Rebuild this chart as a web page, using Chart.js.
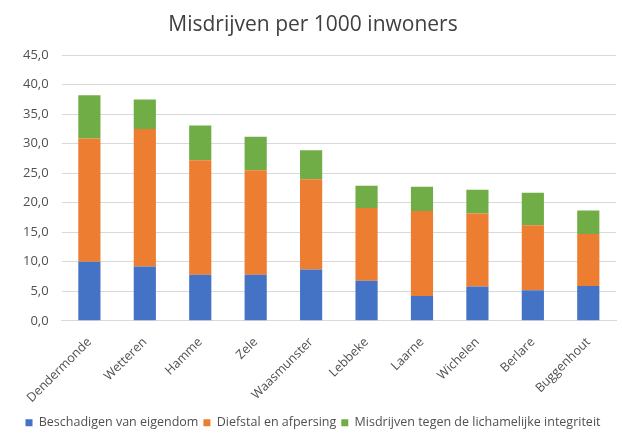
<!DOCTYPE html>
<html>
<head>
<meta charset="utf-8">
<script src="https://cdn.jsdelivr.net/npm/chart.js@4"></script>
<style>
  html, body { margin: 0; padding: 0; background: #fff; }
  #wrap { width: 622px; height: 439px; }
</style>
</head>
<body>
<div id="wrap"><canvas id="myChart" width="622" height="439"></canvas></div>
<script>
const gemeenten = ['Dendermonde', 'Wetteren', 'Hamme', 'Zele', 'Waasmunster', 'Lebbeke', 'Laarne', 'Wichelen', 'Berlare', 'Buggenhout'];
const beschadigen = [10.0, 9.2, 7.8, 7.8, 8.7, 6.8, 4.2, 5.8, 5.2, 5.9];
const diefstal = [20.9, 23.3, 19.4, 17.7, 15.3, 12.3, 14.4, 12.4, 11.0, 8.8];
const integriteit = [7.3, 5.0, 5.9, 5.7, 4.9, 3.8, 4.1, 4.0, 5.5, 4.0];

const fontFam = '"Open Sans", sans-serif';

const myCrimeChart = () => {
    var ctx = document.getElementById('myChart').getContext('2d');

    const myChart = new Chart(ctx, {
        type: 'bar',
        data: {
            labels: gemeenten,
            datasets: [{
                label: 'Beschadigen van eigendom',
                data: beschadigen,
                backgroundColor: '#4472C4'
            }, {
                label: 'Diefstal en afpersing',
                data: diefstal,
                backgroundColor: '#ED7D31'
            }, {
                label: 'Misdrijven tegen de lichamelijke integriteit',
                data: integriteit,
                backgroundColor: '#70AD47'
            }]
        },
        options: {
            responsive: false,
            animation: false,
            layout: {
                padding: { left: 10, right: 6, top: 4, bottom: 0 }
            },
            datasets: {
                bar: { barPercentage: 0.4, categoryPercentage: 1.0 }
            },
            plugins: {
                title: {
                    display: true,
                    text: 'Misdrijven per 1000 inwoners',
                    color: '#404040',
                    font: { family: fontFam, size: 21, weight: 'normal' },
                    padding: { top: 8, bottom: 18 }
                },
                legend: {
                    position: 'bottom',
                    labels: {
                        boxWidth: 7,
                        boxHeight: 7,
                        padding: 5,
                        color: '#505050',
                        font: { family: fontFam, size: 12.5 }
                    }
                },
                tooltip: { enabled: false }
            },
            scales: {
                x: {
                    stacked: true,
                    grid: { display: false },
                    border: { color: '#d9d9d9' },
                    ticks: {
                        minRotation: 45,
                        maxRotation: 45,
                        padding: 6,
                        color: '#505050',
                        font: { family: fontFam, size: 12.5 }
                    }
                },
                y: {
                    stacked: true,
                    min: 0,
                    max: 45,
                    border: { display: false },
                    grid: { color: '#d9d9d9', drawTicks: false },
                    ticks: {
                        stepSize: 5,
                        padding: 13,
                        color: '#505050',
                        font: { family: fontFam, size: 13 },
                        callback: (v) => v.toFixed(1).replace('.', ',')
                    }
                }
            }
        }
    });
};

myCrimeChart();
</script>
</body>
</html>
